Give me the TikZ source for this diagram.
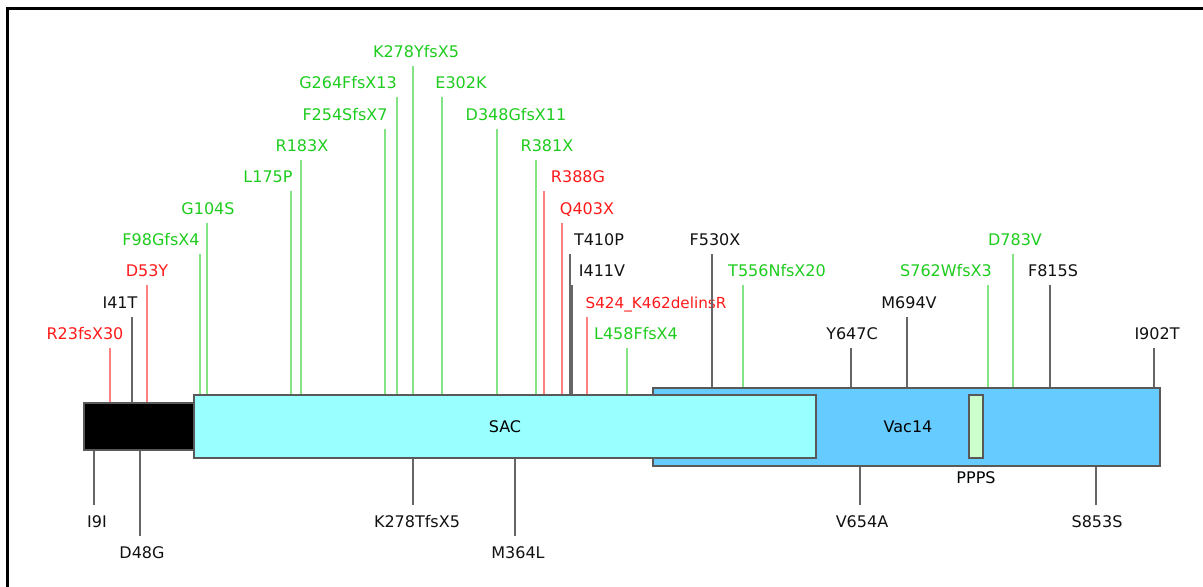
\documentclass[tikz,border=0pt]{standalone}
\usepackage{fontspec}
\setmainfont{DejaVu Sans}
\usepackage{xcolor}
\usepackage{tikz}
\definecolor{txtg}{HTML}{1ECC1E}
\definecolor{txtr}{HTML}{FF1A1A}
\definecolor{txtk}{HTML}{111111}
\definecolor{lineg}{HTML}{84E484}
\definecolor{liner}{HTML}{FF8080}
\definecolor{linek}{HTML}{666666}
\definecolor{sacfill}{HTML}{99FFFF}
\definecolor{vacfill}{HTML}{66CCFF}
\definecolor{pppsfill}{HTML}{CCFFCC}

\begin{document}
\begin{tikzpicture}[x=0.5pt,y=-0.5pt,
  domainbox/.style={draw=black!65,line width=0.7pt,inner sep=0pt,rectangle},
  lbl/.style={anchor=base,inner sep=0pt,font=\fontsize{8}{9.6}\selectfont},
  stemline/.style={line width=0.7pt}]
\clip (0,0) rectangle (1203,586);
\draw[line width=1.6pt] (7.5,8.5) rectangle (1230,620);
% domains
\node[domainbox,fill=black,minimum width=55pt,minimum height=23.5pt] (blk) at (139,426.5) {};
\node[domainbox,fill=vacfill,minimum width=253.5pt,minimum height=39pt] (vac) at (906.5,427) {};
\node[domainbox,fill=sacfill,minimum width=311pt,minimum height=31.5pt] (sac) at (505,426.5) {};
\node[domainbox,fill=pppsfill,minimum width=7pt,minimum height=31.5pt] (ppps) at (976,426.5) {};
\node[lbl,anchor=center] (saclbl) at (505,427) {SAC};
\node[lbl,anchor=center] (vaclbl) at (908,427) {Vac14};
\node[lbl] (pppslbl) at (976,483) {PPPS};
% mutations above the protein
\foreach \x/\ly/\lx/\txt/\col/\dom [count=\i] in {
  110/333/85/R23fsX30/r/blk, 132/302/120/I41T/k/blk, 147/270/147/D53Y/r/blk,
  200/239/161/F98GfsX4/g/sac, 207/208/208/G104S/g/sac, 291/176/268/L175P/g/sac,
  301/145/302/R183X/g/sac, 385/114/345/F254SfsX7/g/sac, 397/82/348/G264FfsX13/g/sac,
  413/51/416/K278YfsX5/g/sac, 442/82/461/E302K/g/sac, 497/114/516/D348GfsX11/g/sac,
  536/145/547/R381X/g/sac, 544/176/578/R388G/r/sac, 562/208/587/Q403X/r/sac,
  570/239/599/T410P/k/sac, 572/270/602/I411V/k/sac,
  587/302/656/{\fontsize{7.6}{9}\selectfont S424\_K462delinsR}/r/sac,
  627/333/636/L458FfsX4/g/sac, 712/239/715/F530X/k/vac, 743/270/777/T556NfsX20/g/vac,
  851/333/852/Y647C/k/vac, 907/302/909/M694V/k/vac, 988/270/946/S762WfsX3/g/vac,
  1013/239/1015/D783V/g/vac, 1050/270/1053/F815S/k/vac, 1154/333/1157/I902T/k/vac} {
  \node[lbl,text=txt\col] (up\i) at (\lx,\ly+6) {\txt};
  \coordinate (upt\i) at (\x,\ly+15);
  \draw[stemline,line\col] (upt\i) -- (upt\i |- \dom.north);
}
% mutations below the protein
\foreach \x/\ly/\lx/\txt/\dom [count=\i] in {
  94/521/97/I9I/blk, 140/552/142/D48G/blk, 413/521/417/K278TfsX5/sac,
  515/552/518/M364L/sac, 860/521/862/V654A/vac, 1096/521/1097/S853S/vac} {
  \node[lbl,text=txtk] (dn\i) at (\lx,\ly+6) {\txt};
  \coordinate (dnt\i) at (\x,\ly-16);
  \draw[stemline,linek] (dnt\i) -- (dnt\i |- \dom.south);
}
\end{tikzpicture}
\end{document}
